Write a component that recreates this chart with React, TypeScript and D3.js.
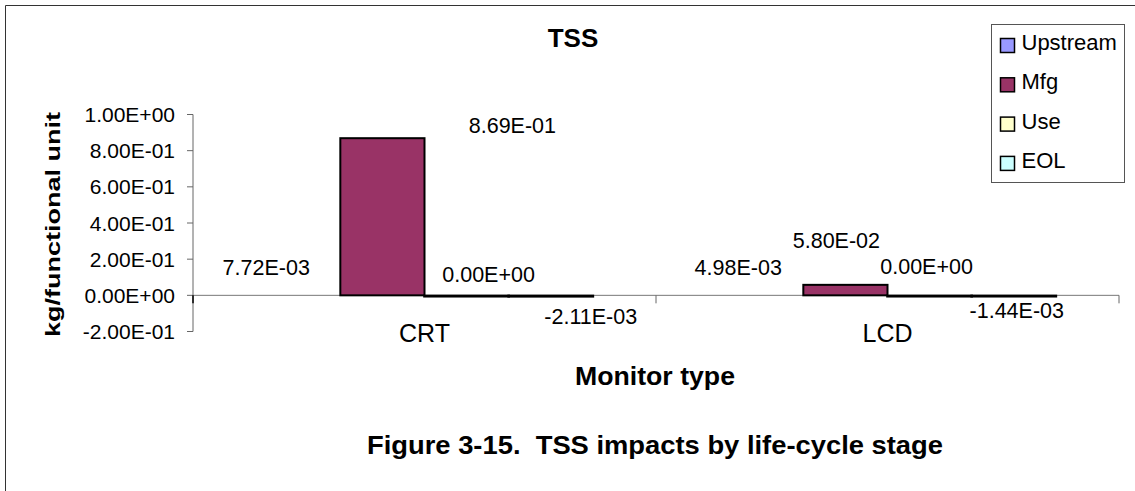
import React from 'react';
import * as d3 from 'd3';

// ---- data ----
const categories = ['CRT', 'LCD'];
const seriesNames = ['Upstream', 'Mfg', 'Use', 'EOL'];
const crtValues = [0.00772, 0.869, 0, -0.00211];
const lcdValues = [0.00498, 0.058, 0, -0.00144];
const yTicks = [-0.2, 0, 0.2, 0.4, 0.6, 0.8, 1.0];
const chartTitle = 'TSS';
const xTitle = 'Monitor type';
const yTitle = 'kg/functional unit';
const caption = 'Figure 3-15.  TSS impacts by life-cycle stage';

// ---- styles / label placement (relative to bar) ----
const seriesColors = ['#9999FF', '#993366', '#FFFFCC', '#CCFFFF'];
const seriesVisible = [false, true, true, true];
const labelDx = [
  [-32, 130, 22, 40],
  [-23, -9, -3, 3],
];
const labelDy = [
  [-19, -5, -13.3, 28.3],
  [-19.4, -36.8, -21.3, 22.4],
];

const values = [crtValues, lcdValues];

function fmtE(v: number): string {
  const s = v.toExponential(2);
  const [m, e] = s.split('e');
  const sign = e[0] === '-' ? '-' : '+';
  const digits = e.replace(/[+-]/, '').padStart(2, '0');
  return `${m}E${sign}${digits}`;
}

const W = 1135;
const H = 491;
const FONT = '"Liberation Sans", Arial, sans-serif';

export default function App() {
  const x0 = 193;
  const x1 = 1119;
  const y = d3.scaleLinear().domain([-0.2, 1.0]).range([331.5, 114.5]);
  const xCat = d3.scaleBand<string>().domain(categories).range([x0, x1]).paddingInner(0).paddingOuter(0);
  const bw = xCat.bandwidth();
  const barUnit = bw / 5.5; // gap width 150%
  const xSer = d3
    .scaleBand<string>()
    .domain(seriesNames)
    .range([barUnit * 0.75, bw - barUnit * 0.75])
    .paddingInner(0)
    .paddingOuter(0);

  const y0 = y(0);

  return (
    <svg
      width={W}
      height={H}
      style={{ position: 'absolute', left: 0, top: 0, background: '#fff' }}
      fontFamily={FONT}
    >
      <rect x={0} y={0} width={W} height={H} fill="#fff" />
      {/* frame */}
      <line x1={5.5} y1={5.5} x2={W} y2={5.5} stroke="#333" strokeWidth={1} />
      <line x1={5.5} y1={5.5} x2={5.5} y2={H} stroke="#333" strokeWidth={1} />

      {/* title */}
      <text x={573} y={47} textAnchor="middle" fontSize={26} fontWeight="bold">
        {chartTitle}
      </text>

      {/* y axis */}
      <line x1={x0} y1={y(1.0)} x2={x0} y2={y(-0.2)} stroke="#666" strokeWidth={1} />
      {yTicks.map((t) => (
        <g key={t}>
          <line x1={x0 - 6} y1={y(t)} x2={x0} y2={y(t)} stroke="#666" strokeWidth={1} />
          <text x={175} y={y(t) + 7.5} textAnchor="end" fontSize={21}>
            {fmtE(t)}
          </text>
        </g>
      ))}

      {/* x axis baseline */}
      <line x1={x0} y1={y0} x2={x1} y2={y0} stroke="#777" strokeWidth={1} />

      {/* bars */}
      {categories.map((c, ci) =>
        seriesNames.map((s, si) => {
          const v = values[ci][si];
          const bx = (xCat(c) as number) + (xSer(s) as number);
          const top = Math.min(y(v), y0);
          const h = Math.max(Math.abs(y(v) - y0), 0.3);
          return (
            <rect
              key={c + s}
              x={bx}
              y={top + (si === 1 ? 0 : 0.6)}
              width={xSer.bandwidth()}
              height={h}
              fill={seriesColors[si]}
              fillOpacity={seriesVisible[si] ? 1 : 0}
              stroke={seriesVisible[si] ? '#000' : 'none'}
              strokeWidth={si === 1 ? 2 : 2.6}
            />
          );
        })
      )}

      {/* x axis ticks */}
      {[x0, ...categories.map((c) => (xCat(c) as number) + bw)].map((tx, i) => (
        <line key={i} x1={tx} y1={y0} x2={tx} y2={y0 + 8} stroke={i === 0 ? '#000' : '#666'} strokeWidth={i === 0 ? 1.5 : 1} />
      ))}

      {/* data labels */}
      {categories.map((c, ci) =>
        seriesNames.map((s, si) => {
          const v = values[ci][si];
          const cx = (xCat(c) as number) + (xSer(s) as number) + xSer.bandwidth() / 2;
          return (
            <text
              key={'l' + c + s}
              x={cx + labelDx[ci][si]}
              y={y(v) + labelDy[ci][si]}
              textAnchor="middle"
              fontSize={21.5}
            >
              {fmtE(v)}
            </text>
          );
        })
      )}

      {/* category labels */}
      {categories.map((c) => (
        <text key={'c' + c} x={(xCat(c) as number) + bw / 2} y={342} textAnchor="middle" fontSize={25}>
          {c}
        </text>
      ))}

      {/* axis titles */}
      <text x={655} y={385} textAnchor="middle" fontSize={25} fontWeight="bold" textLength={160} lengthAdjust="spacingAndGlyphs">
        {xTitle}
      </text>
      <text
        transform={`translate(60,224.5) rotate(-90)`}
        textAnchor="middle"
        fontSize={21}
        fontWeight="bold"
        textLength={225}
        lengthAdjust="spacingAndGlyphs"
      >
        {yTitle}
      </text>

      {/* legend */}
      <rect x={991.5} y={24.5} width={133} height={158} fill="#fff" stroke="#555" strokeWidth={1} />
      {seriesNames.map((s, i) => (
        <g key={'lg' + s} transform={`translate(1000, ${38 + i * 39.3})`}>
          <rect x={0.5} y={0.5} width={14} height={14} fill={seriesColors[i]} stroke="#000" strokeWidth={1.5} />
          <text x={21.5} y={12} fontSize={22}>
            {s}
          </text>
        </g>
      ))}

      {/* caption */}
      <text
        x={655}
        y={454}
        textAnchor="middle"
        fontSize={26}
        fontWeight="bold"
        textLength={576}
        lengthAdjust="spacingAndGlyphs"
        style={{ whiteSpace: 'pre' }}
      >
        {caption}
      </text>
    </svg>
  );
}
